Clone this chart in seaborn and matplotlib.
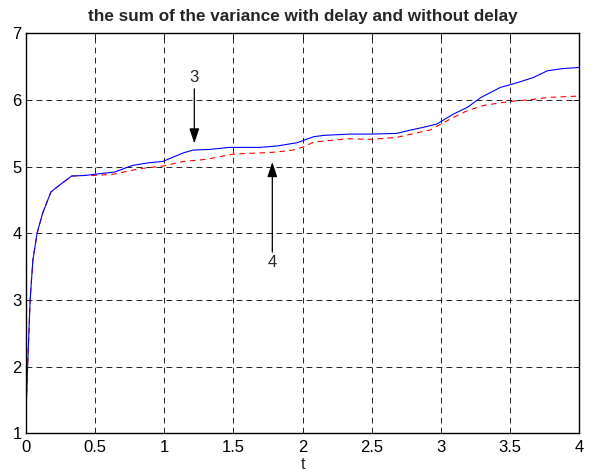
import matplotlib
matplotlib.use("Agg")
import matplotlib.pyplot as plt
import seaborn as sns
import pandas as pd

# curve "3": variance sum without delay (solid blue)
t_blue = [0, 0.01, 0.03, 0.05, 0.08, 0.12, 0.18, 0.24, 0.33, 0.43, 0.51, 0.64,
          0.77, 0.89, 0.99, 1.14, 1.21, 1.33, 1.47, 1.69, 1.81, 1.96, 2.0, 2.08,
          2.15, 2.34, 2.49, 2.68, 2.78, 2.87, 2.97, 3.01, 3.09, 3.19, 3.29, 3.43,
          3.55, 3.67, 3.77, 3.87, 4.0]
v_blue = [1.3, 1.9, 3.0, 3.6, 4.0, 4.3, 4.62, 4.72, 4.86, 4.87, 4.89, 4.92,
          5.02, 5.06, 5.08, 5.21, 5.25, 5.26, 5.29, 5.29, 5.31, 5.36, 5.39, 5.45,
          5.47, 5.49, 5.49, 5.50, 5.55, 5.59, 5.64, 5.69, 5.79, 5.89, 6.04, 6.19,
          6.26, 6.34, 6.44, 6.47, 6.49]

# curve "4": variance sum with delay (dashed red)
t_red = [0, 0.01, 0.03, 0.05, 0.08, 0.12, 0.18, 0.24, 0.33, 0.43, 0.51, 0.64,
         0.82, 0.99, 1.14, 1.30, 1.40, 1.50, 1.72, 1.81, 1.93, 2.01, 2.08, 2.17,
         2.34, 2.49, 2.68, 2.83, 2.92, 3.0, 3.09, 3.19, 3.31, 3.43, 3.55, 3.67,
         3.77, 4.0]
v_red = [1.3, 1.9, 3.0, 3.6, 4.0, 4.3, 4.62, 4.72, 4.86, 4.87, 4.87, 4.89,
         4.97, 5.01, 5.08, 5.11, 5.15, 5.19, 5.21, 5.22, 5.25, 5.30, 5.37, 5.39,
         5.42, 5.41, 5.44, 5.51, 5.55, 5.64, 5.74, 5.84, 5.92, 5.96, 5.99, 6.01,
         6.04, 6.06]

x_ticks = [0, 0.5, 1, 1.5, 2, 2.5, 3, 3.5, 4]
x_tick_labels = ["0", "0.5", "1", "1.5", "2", "2.5", "3", "3.5", "4"]
y_ticks = [1, 2, 3, 4, 5, 6, 7]

sns.set_style("white")
plt.rcParams['font.family'] = ['Liberation Sans', 'DejaVu Sans']

fig = plt.figure(figsize=(5.93, 4.71), dpi=100)
ax = fig.add_axes([0.0438, 0.080, 0.933, 0.849])

red_df = pd.DataFrame({"t": t_red, "v": v_red})
blue_df = pd.DataFrame({"t": t_blue, "v": v_blue})
sns.lineplot(data=red_df, x="t", y="v", ax=ax, color="red", lw=0.8,
             linestyle=(0, (5, 4)), estimator=None, sort=False)
sns.lineplot(data=blue_df, x="t", y="v", ax=ax, color="blue", lw=0.8,
             estimator=None, sort=False)

ax.set_xlim(0, 4)
ax.set_ylim(1, 7)
ax.set_xticks(x_ticks)
ax.set_xticklabels(x_tick_labels)
ax.set_yticks(y_ticks)
ax.grid(True, color="black", lw=0.6, linestyle=(0, (7, 5)))
ax.tick_params(direction="in", length=4, width=0.6, top=True, right=True,
               labelsize=12, colors="black")
ax.tick_params(axis="x", pad=5)
ax.tick_params(axis="y", pad=3)
for s in ax.spines.values():
    s.set_color("black")
    s.set_linewidth(1.0)

ax.set_xlabel("t", fontsize=12, labelpad=1)
ax.set_ylabel("")
ax.set_title("the sum of the variance with delay and without delay",
             fontsize=12.3, fontweight="bold", pad=9)

arrow = dict(arrowstyle="-|>,head_length=0.9,head_width=0.3", color="black",
             lw=0.9, shrinkA=0, shrinkB=0)
ax.annotate("", xy=(1.217, 5.35), xytext=(1.217, 6.17), arrowprops=arrow)
ax.text(1.217, 6.34, "3", ha="center", va="center", fontsize=12)
ax.annotate("", xy=(1.781, 5.07), xytext=(1.781, 3.72), arrowprops=arrow)
ax.text(1.781, 3.57, "4", ha="center", va="center", fontsize=12)

fig.savefig("out.png", dpi=100)
